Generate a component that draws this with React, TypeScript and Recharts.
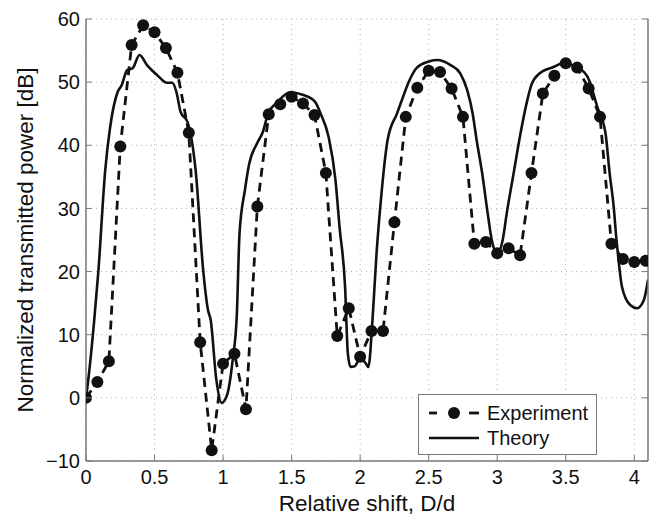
import React from "react";
import {
  ComposedChart,
  Line,
  XAxis,
  YAxis,
  CartesianGrid,
} from "recharts";

// measured values, Experiment (dots, dashed line)
const expShift = [
  0, 0.083, 0.167, 0.25, 0.333, 0.417, 0.5, 0.583, 0.667, 0.75,
  0.833, 0.917, 1.0, 1.083, 1.167, 1.25, 1.333, 1.417, 1.5, 1.583,
  1.667, 1.75, 1.833, 1.917, 2.0, 2.083, 2.167, 2.25, 2.333, 2.417,
  2.5, 2.583, 2.667, 2.75, 2.833, 2.917, 3.0, 3.083, 3.167, 3.25,
  3.333, 3.417, 3.5, 3.583, 3.667, 3.75, 3.833, 3.917, 4.0, 4.083,
];
const expPower = [
  0, 2.5, 5.8, 39.8, 55.9, 59.0, 57.9, 55.4, 51.5, 42.0,
  8.8, -8.3, 5.4, 7.0, -1.8, 30.3, 44.9, 46.5, 47.7, 46.6,
  44.8, 35.6, 9.8, 14.2, 6.5, 10.6, 10.6, 27.8, 44.5, 49.1,
  51.8, 51.6, 49.0, 44.5, 24.4, 24.7, 22.9, 23.7, 22.6, 35.6,
  48.2, 51.0, 53.0, 52.3, 49.0, 44.5, 24.4, 22.0, 21.5, 21.7,
];

// theory curve (solid)
const theoryShift = [
  0, 0.02, 0.06, 0.09, 0.14, 0.175, 0.23, 0.26, 0.3, 0.34,
  0.39, 0.445, 0.52, 0.59, 0.63, 0.66, 0.69, 0.74, 0.78, 0.8,
  0.855, 0.89, 0.91, 0.95, 0.99, 1.03, 1.07, 1.1, 1.12, 1.16,
  1.19, 1.25, 1.29, 1.33, 1.39, 1.49, 1.58, 1.67, 1.71, 1.77,
  1.82, 1.85, 1.89, 1.91, 1.93, 1.96, 2.0, 2.04, 2.06, 2.09,
  2.12, 2.15, 2.2, 2.27, 2.31, 2.36, 2.41, 2.49, 2.56, 2.66,
  2.73, 2.78, 2.82, 2.85, 2.89, 2.93, 2.96, 3.0, 3.04, 3.07,
  3.12, 3.17, 3.22, 3.25, 3.31, 3.41, 3.48, 3.58, 3.66, 3.73,
  3.79, 3.82, 3.85, 3.87, 3.88, 3.91, 3.97, 4.02, 4.07, 4.1,
];
const theoryPower = [
  0, 3.5, 12.3, 20, 36, 42.7, 48.4, 49.5, 51.9, 52.2,
  54.3, 52.7, 51.1, 49.9, 49.9, 48.4, 45.3, 43.7, 39.6, 36,
  20.2, 13.9, 12.3, 3, -0.8, 0.5, 6, 13, 26, 33,
  37, 40.4, 42.1, 45.1, 46.7, 48.4, 48.0, 46.9, 45.1, 41.3,
  34.5, 27, 17.6, 7.1, 4.9, 5.0, 6.3, 5.5, 4.9, 12.3,
  23, 31, 40.8, 45.1, 47.5, 50.3, 52.2, 53.2, 53.5, 52.7,
  51.4, 48.8, 45.1, 40.8, 35.6, 29.3, 25.0, 22.9, 25.0, 29.3,
  35.6, 41.9, 47.2, 49.6, 51.4, 52.4, 53.0, 52.4, 50.8, 46.1,
  41.9, 35.6, 30.2, 25.0, 22.9, 17.6, 14.7, 14.2, 15.5, 18.7,
];

const xTicks = [0, 0.5, 1, 1.5, 2, 2.5, 3, 3.5, 4];
const yTicks = [-10, 0, 10, 20, 30, 40, 50, 60];

const experiment = expShift.map((s, i) => ({ shift: s, power: expPower[i] }));
const theory = theoryShift.map((s, i) => ({ shift: s, power: theoryPower[i] }));

const FONT = "'Liberation Sans', Arial, Helvetica, sans-serif";
const INK = "#111";
const FRAME = "#7a7a7a";
const TICK_LEN = 6;

const fmt = (v: number) => (v < 0 ? `\u2212${Math.abs(v)}` : `${v}`);

const BottomTick = (props: any) => {
  const { x, y, payload } = props;
  return (
    <g>
      <line x1={x} x2={x} y1={y - 7} y2={y - 7 - TICK_LEN} stroke={FRAME} />
      <text x={x} y={y} dy="0.8em" textAnchor="middle" fontSize={20} fontFamily={FONT} fill={INK}>
        {fmt(payload.value)}
      </text>
    </g>
  );
};

const LeftTick = (props: any) => {
  const { x, y, payload } = props;
  return (
    <g>
      <line x1={x + 6} x2={x + 6 + TICK_LEN} y1={y} y2={y} stroke={FRAME} />
      <text x={x} y={y} dy="0.36em" textAnchor="end" fontSize={20} fontFamily={FONT} fill={INK}>
        {fmt(payload.value)}
      </text>
    </g>
  );
};

const TopTick = (props: any) => {
  const { x, y } = props;
  return <line x1={x} x2={x} y1={y} y2={y + TICK_LEN} stroke={FRAME} />;
};

const RightTick = (props: any) => {
  const { x, y } = props;
  return <line x1={x} x2={x - TICK_LEN} y1={y} y2={y} stroke={FRAME} />;
};

const YLabel = () => (
  <text
    x={25}
    y={240}
    transform="rotate(-90 25 240)"
    textAnchor="middle"
    dy="0.36em"
    fontSize={22.5}
    fontFamily={FONT}
    fill={INK}
  >
    Normalized transmitted power [dB]
  </text>
);

function LegendBox() {
  return (
    <div
      style={{
        position: "absolute",
        left: 418,
        top: 394,
        width: 177,
        height: 59,
        border: `1px solid ${FRAME}`,
        background: "#fff",
      }}
    >
      <svg width={177} height={59} style={{ display: "block" }}>
        <line x1={10} x2={18} y1={18} y2={18} stroke={INK} strokeWidth={2.8} />
        <circle cx={35} cy={18} r={6} fill={INK} />
        <line x1={50} x2={60} y1={18} y2={18} stroke={INK} strokeWidth={2.8} />
        <text x={68} y={18} dy="0.36em" fontSize={20} fontFamily={FONT} fill={INK}>
          Experiment
        </text>
        <line x1={10} x2={60} y1={43} y2={43} stroke={INK} strokeWidth={2.6} />
        <text x={68} y={43} dy="0.36em" fontSize={20} fontFamily={FONT} fill={INK}>
          Theory
        </text>
      </svg>
    </div>
  );
}

export default function App() {
  return (
    <div style={{ position: "absolute", left: 0, top: 0, width: 654, height: 515, background: "#fff" }}>
      <ComposedChart width={654} height={515} margin={{ top: 19, right: 0, bottom: 0, left: 0 }}>
        <CartesianGrid stroke="#b0b0b0" strokeDasharray="1 4" />
        <XAxis
          type="number"
          dataKey="shift"
          domain={[0, 4.1]}
          ticks={xTicks}
          allowDataOverflow
          height={54}
          tickSize={0}
          tickMargin={7}
          tickLine={false}
          axisLine={{ stroke: FRAME, strokeWidth: 1.5 }}
          tick={<BottomTick />}
          label={{
            value: "Relative shift, D/d",
            position: "insideBottom",
            offset: 4,
            fontSize: 22.5,
            fontFamily: FONT,
            fill: INK,
          }}
        />
        <XAxis
          xAxisId="top"
          orientation="top"
          type="number"
          domain={[0, 4.1]}
          ticks={xTicks}
          allowDataOverflow
          height={0}
          tickSize={0}
          tickMargin={0}
          tickLine={false}
          axisLine={{ stroke: FRAME, strokeWidth: 1.5 }}
          tick={<TopTick />}
        />
        <YAxis
          type="number"
          domain={[-10, 60]}
          ticks={yTicks}
          allowDataOverflow
          width={86}
          tickSize={0}
          tickMargin={6}
          tickLine={false}
          axisLine={{ stroke: FRAME, strokeWidth: 1.5 }}
          tick={<LeftTick />}
          label={<YLabel />}
        />
        <YAxis
          yAxisId="right"
          orientation="right"
          type="number"
          domain={[-10, 60]}
          ticks={yTicks}
          allowDataOverflow
          width={6}
          tickSize={0}
          tickMargin={0}
          tickLine={false}
          axisLine={{ stroke: FRAME, strokeWidth: 1.5 }}
          tick={<RightTick />}
        />
        <Line
          data={theory}
          dataKey="power"
          type="monotone"
          stroke={INK}
          strokeWidth={2.6}
          dot={false}
          activeDot={false}
          isAnimationActive={false}
        />
        <Line
          data={experiment}
          dataKey="power"
          type="linear"
          stroke={INK}
          strokeWidth={2.8}
          strokeDasharray="9 6"
          dot={{ r: 6, fill: INK, stroke: "none" }}
          activeDot={false}
          isAnimationActive={false}
        />
      </ComposedChart>
      <LegendBox />
    </div>
  );
}
